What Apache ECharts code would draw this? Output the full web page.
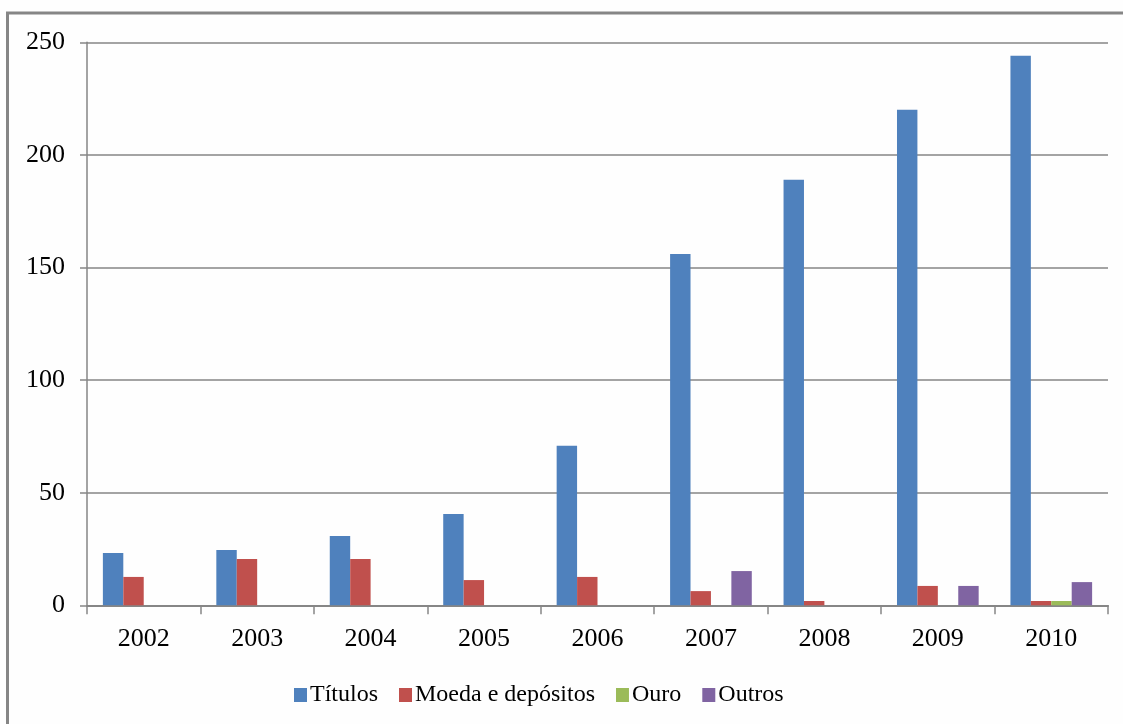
<!DOCTYPE html>
<html>
<head>
<meta charset="utf-8">
<script src="https://cdn.jsdelivr.net/npm/echarts@6/dist/echarts.min.js"></script>
<style>
  html, body { margin: 0; padding: 0; background: #fefefe; }
  #chart { width: 1123px; height: 724px; }
</style>
</head>
<body>
<div id="chart"></div>
<script>
// Categories (years) and series values
const years = ['2002', '2003', '2004', '2005', '2006', '2007', '2008', '2009', '2010'];
const titulos = [23.2, 24.6, 30.8, 40.5, 70.8, 156, 189, 220, 244];
const moeda = [12.6, 20.6, 20.6, 11.2, 12.6, 6.3, 1.9, 8.6, 1.9];
const ouro = [0, 0, 0, 0, 0, 0, 0, 0, 1.9];
const outros = [0, 0, 0, 0, 0, 15.2, 0, 8.6, 10.3];
const seriesNames = ['Títulos', 'Moeda e depósitos', 'Ouro', 'Outros'];
const seriesColors = ['#4f81bd', '#c0504d', '#9bbb59', '#8064a2'];

const chart = echarts.init(document.getElementById('chart'), null, { renderer: 'canvas' });
const axisGray = '#868686';
const serif = '"Liberation Serif", "Times New Roman", serif';

const makeBar = (name, data, i) => ({
  name: name,
  type: 'bar',
  data: data,
  barGap: '0%',
  barCategoryGap: '28%',
  itemStyle: { color: seriesColors[i] }
});

chart.setOption({
  animation: false,
  backgroundColor: '#fefefe',
  textStyle: { fontFamily: serif },
  // outer frame around the chart
  graphic: [{
    type: 'rect',
    shape: { x: 7.5, y: 13, width: 1300, height: 900 },
    style: { fill: 'none', stroke: axisGray, lineWidth: 3 },
    silent: true,
    z: -1
  }],
  grid: { left: 87, right: 15, top: 42.3, bottom: 118.7, containLabel: false },
  legend: {
    left: 289,
    top: 678,
    itemWidth: 13,
    itemHeight: 14,
    itemGap: 21,
    icon: 'rect',
    textStyle: { fontFamily: serif, fontSize: 24, color: '#000', padding: [0, 0, 0, -2] },
    data: seriesNames
  },
  xAxis: {
    type: 'category',
    data: years,
    boundaryGap: true,
    axisLine: { lineStyle: { color: axisGray, width: 2 } },
    axisTick: { show: true, length: 9, alignWithLabel: false, lineStyle: { color: axisGray, width: 1.5 } },
    axisLabel: { fontFamily: serif, fontSize: 26, color: '#000', margin: 21 },
    splitLine: { show: false }
  },
  yAxis: {
    type: 'value',
    min: 0,
    max: 250,
    interval: 50,
    axisLine: { show: true, lineStyle: { color: axisGray, width: 1.5 } },
    axisTick: { show: true, length: 7, lineStyle: { color: axisGray, width: 1.5 } },
    axisLabel: { fontFamily: serif, fontSize: 26, color: '#000', margin: 22 },
    splitLine: { show: true, lineStyle: { color: axisGray, width: 1.5 } }
  },
  series: [
    makeBar(seriesNames[0], titulos, 0),
    makeBar(seriesNames[1], moeda, 1),
    makeBar(seriesNames[2], ouro, 2),
    makeBar(seriesNames[3], outros, 3)
  ]
});
</script>
</body>
</html>
